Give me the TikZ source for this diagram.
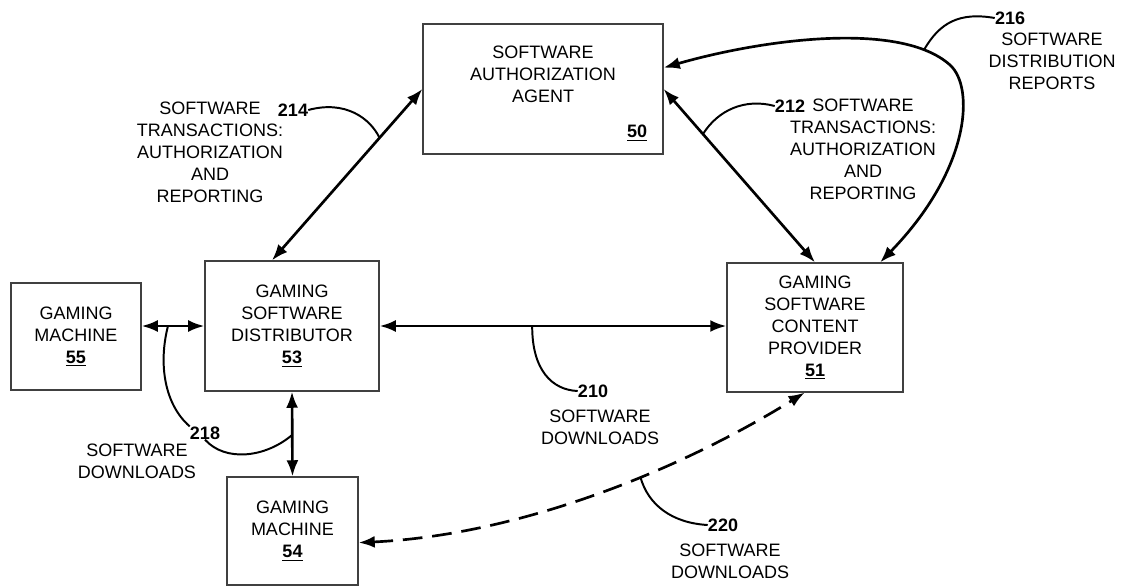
\documentclass[tikz,border=0pt]{standalone}
\usepackage{fontspec}
\setmainfont{Liberation Sans}
\usetikzlibrary{arrows.meta}

\begin{document}
\begin{tikzpicture}[x=0.025cm,y=-0.025cm,
    box/.style={draw=black!75,line width=0.8pt,align=center,inner sep=0pt,font=\fontsize{12.8}{15.6}\selectfont},
    lbl/.style={align=center,inner sep=0pt,font=\fontsize{12.8}{15.6}\selectfont},
    num/.style={inner sep=0pt,font=\fontsize{12.8}{15.6}\selectfont\bfseries},
    link/.style={{Latex[length=11.5pt,width=8.5pt]}-{Latex[length=11.5pt,width=8.5pt]},line width=1.9pt},
    lead/.style={line width=1.4pt}]

    \useasboundingbox (0,0) rectangle (1122,586);

    \node[box,minimum width=6cm,minimum height=3.25cm] (agent) at (543,89) {};
    \node[lbl] (agenttxt) at (543,74) {SOFTWARE\\AUTHORIZATION\\AGENT};
    \node[num] (n50) at (637,133) {\underline{50}};
    \node[box,minimum width=4.35cm,minimum height=3.25cm] (dist) at (292,326) {GAMING\\SOFTWARE\\DISTRIBUTOR\\\textbf{\underline{53}}};
    \node[box,minimum width=3.25cm,minimum height=2.675cm] (m55) at (76,336.5) {GAMING\\MACHINE\\\textbf{\underline{55}}};
    \node[box,minimum width=3.275cm,minimum height=2.7cm] (m54) at (292.5,531) {GAMING\\MACHINE\\\textbf{\underline{54}}};
    \node[box,minimum width=4.4cm,minimum height=3.225cm] (prov) at (815,327.5) {GAMING\\SOFTWARE\\CONTENT\\PROVIDER\\\textbf{\underline{51}}};

    % labels
    \node[lbl] (t214) at (210,152) {SOFTWARE\\TRANSACTIONS:\\AUTHORIZATION\\AND\\REPORTING};
    \node[num] (n214) at (293,110) {214};
    \node[num] (n212) at (790,106) {212};
    \node[lbl] (t212) at (863,149) {SOFTWARE\\TRANSACTIONS:\\AUTHORIZATION\\AND\\REPORTING};
    \node[num] (n216) at (1010,18) {216};
    \node[lbl] (t216) at (1052,61.5) {SOFTWARE\\DISTRIBUTION\\REPORTS};
    \node[num] (n210) at (593,391) {210};
    \node[lbl] (t210) at (600,427.5) {SOFTWARE\\DOWNLOADS};
    \node[num] (n218) at (205,433) {218};
    \node[lbl] (t218) at (137,461.5) {SOFTWARE\\DOWNLOADS};
    \node[num] (n220) at (723,525) {220};
    \node[lbl] (t220) at (730,561.5) {SOFTWARE\\DOWNLOADS};

    \draw[link] (dist.107) -- (agent.west) coordinate[pos=0.715] (c214);
    \draw[link] (agent.east) -- (prov.north) coordinate[pos=0.26] (c212);
    \draw[link] (agent.10) .. controls (760,40) and (900,20) .. (950,65) coordinate[pos=0.86] (c216)
        .. controls (975,87.5) and (970,170) .. (prov.45);
    \draw[link] (dist.east) -- (dist.east -| prov.west) coordinate[pos=0.44] (c210);
    \draw[link] (dist.west -| m55.east) -- (dist.west) coordinate[pos=0.42] (c218a);
    \draw[link] (dist.south) -- (m54.north) coordinate[pos=0.51] (c218b);
    \draw[link,dash pattern=on 14pt off 7pt] (m54.350) .. controls (520,535) and (680,470) .. (prov.261) coordinate[pos=0.6] (c220);

    \draw[lead] (n214.east) .. controls (345,100) and (370,118) .. (c214);
    \draw[lead] (c212) .. controls (718,110) and (745,98) .. (n212.west);
    \draw[lead] (c216) .. controls (940,22) and (960,12) .. (n216.west);
    \draw[lead] (c210) .. controls (532,370) and (552,390) .. (n210.west);
    \draw[lead] (c218a) .. controls (158,365) and (165,405) .. (n218.north west);
    \draw[lead] (n218.south) .. controls (225,462) and (265,458) .. (c218b);
    \draw[lead] (c220) .. controls (648,505) and (672,523) .. (n220.west);
\end{tikzpicture}
\end{document}
